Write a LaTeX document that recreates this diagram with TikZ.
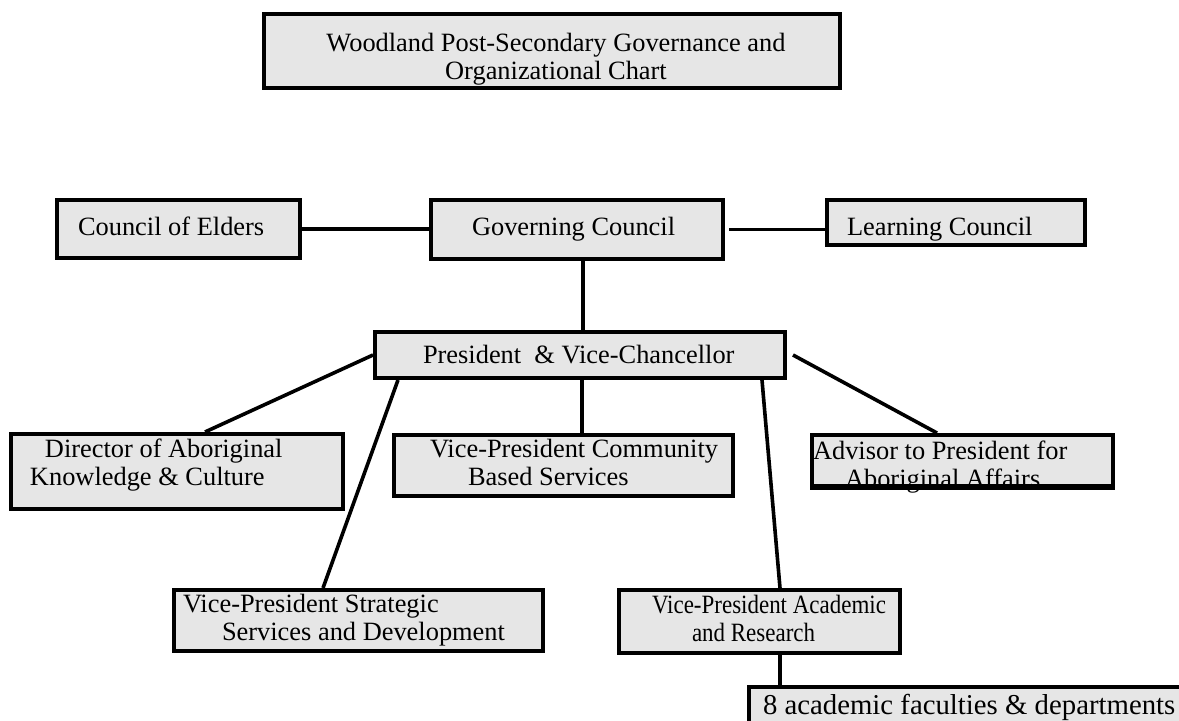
\documentclass[tikz,border=0pt]{standalone}
\usepackage{fontspec}
\setmainfont{Liberation Serif}
\usetikzlibrary{positioning}
\definecolor{boxgray}{RGB}{230,230,230}

\begin{document}
\begin{tikzpicture}[x=0.5pt, y=-0.5pt, font=\fontsize{13.2pt}{14pt}\selectfont, line width=2pt,
		orgbox/.style={draw, fill=boxgray, inner sep=0pt},
		lbl/.style={inner sep=0pt, align=left},
		link/.style={line width=1.8pt}]
		\useasboundingbox (0,0) rectangle (1179,721);
		\clip (0,0) rectangle (1179,721);

		% boxes
		\node[orgbox, minimum width=288pt, minimum height=37pt] (title) at (552,51) {};
		\node[orgbox, minimum width=121.5pt, minimum height=29pt] (elders) at (178.5,229) {};
		\node[orgbox, minimum width=146pt, minimum height=29.5pt] (governing) at (577,229.5) {};
		\node[orgbox, minimum width=129pt, minimum height=22.5pt] (learning) at (956,222.5) {};
		\node[orgbox, minimum width=205pt, minimum height=23pt] (president) at (580,355) {};
		\node[orgbox, minimum width=166pt, minimum height=37.5pt] (director) at (177,471.5) {};
		\node[orgbox, minimum width=169.5pt, minimum height=30.5pt] (vpcomm) at (563.5,465.5) {};
		\node[orgbox, minimum width=150.5pt, minimum height=25.5pt] (advisor) at (962.5,460.5) {};
		\node[orgbox, minimum width=184.5pt, minimum height=30.5pt] (vpstrat) at (358.5,620.5) {};
		\node[orgbox, minimum width=140.5pt, minimum height=31.5pt] (vpacad) at (759.5,621.5) {};
		\node[orgbox, minimum width=225.5pt, minimum height=21pt] (faculties) at (974.5,708) {};

		% texts
		\node[lbl, align=center, xshift=2pt, yshift=-4.25pt] (titletext) at (title.center)
			{Woodland Post-Secondary Governance and\\Organizational Chart};
		\node[lbl, right=10.5pt, yshift=1.5pt] (elderstext) at (elders.west) {Council of Elders};
		\node[lbl, right=20.5pt] (governingtext) at (governing.west) {Governing Council};
		\node[lbl, right=10pt, yshift=-3.25pt] (learningtext) at (learning.west) {Learning Council};
		\node[lbl, right=24pt] (presidenttext) at (president.west) {President\ \ \& Vice-Chancellor};
		\node[lbl, right=9.5pt, yshift=3.25pt] (directortext) at (director.west)
			{\hspace*{7.5pt}Director of Aboriginal\\Knowledge \& Culture};
		\node[lbl, right=18pt, yshift=1.5pt] (vpcommtext) at (vpcomm.west)
			{Vice-President Community\\\hspace*{19pt}Based Services};
		\node[lbl, right=0.5pt, yshift=-3.25pt] (advisortext) at (advisor.west)
			{Advisor to President for\\\hspace*{16pt}Aboriginal Affairs};
		\draw (advisor.south west) -- (advisor.south east);
		\node[lbl, right=4.5pt] (vpstrattext) at (vpstrat.west)
			{Vice-President Strategic\\\hspace*{19.5pt}Services and Development};
		\node[lbl, right=16.5pt, yshift=1.5pt] (vpacadtext) at (vpacad.west)
			{\scalebox{0.87}[1]{Vice-President Academic}\\\hspace*{20pt}\scalebox{0.87}[1]{and Research}};
		\node[lbl, right=7pt, yshift=0.5pt] (facultiestext) at (faculties.west)
			{\scalebox{1.09}{8 academic faculties \& departments}};

		% connectors
		\draw[link] (elders.east) -- (governing.west |- elders.east);
		\draw[link] ([xshift=2pt]governing.east) -- (learning.west |- governing.east);
		\draw[link] ([xshift=3pt]governing.south) -- ([xshift=1.5pt]president.north);
		\draw[link] (president.west) -- ([xshift=14pt]director.north);
		\draw[link] ([xshift=12.5pt]president.south west) -- ([xshift=-17.75pt]vpstrat.north);
		\draw[link] ([xshift=1pt]president.south) -- ([xshift=9.25pt]vpcomm.north);
		\draw[link] ([xshift=-12.5pt]president.south east) -- ([xshift=10.25pt]vpacad.north);
		\draw[link] ([xshift=3pt]president.east) -- ([xshift=-12.75pt]advisor.north);
		\draw[link] ([xshift=10.25pt]vpacad.south) -- ([xshift=16.5pt]faculties.north west);
	\end{tikzpicture}
\end{document}
